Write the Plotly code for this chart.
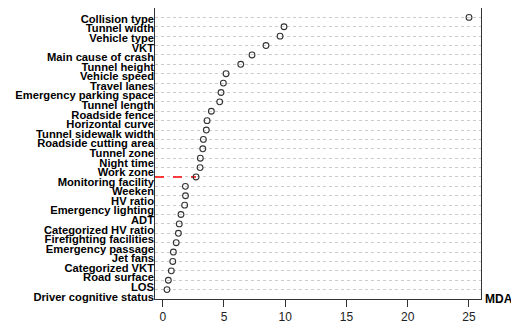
import plotly.graph_objects as go

variables = [
    "Collision type", "Tunnel width", "Vehicle type", "VKT", "Main cause of crash",
    "Tunnel height", "Vehicle speed", "Travel lanes", "Emergency parking space",
    "Tunnel length", "Roadside fence", "Horizontal curve", "Tunnel sidewalk width",
    "Roadside cutting area", "Tunnel zone", "Night time", "Work zone",
    "Monitoring facility", "Weeken", "HV ratio", "Emergency lighting", "ADT",
    "Categorized HV ratio", "Firefighting facilities", "Emergency passage",
    "Jet fans", "Categorized VKT", "Road surface", "LOS", "Driver cognitive status",
]
mda = [
    25.0, 9.9, 9.58, 8.43, 7.29, 6.37, 5.17, 4.95, 4.76, 4.65,
    3.97, 3.62, 3.56, 3.32, 3.27, 3.07, 3.05, 2.72, 1.85, 1.86,
    1.79, 1.49, 1.35, 1.28, 1.10, 0.87, 0.82, 0.70, 0.46, 0.35,
]
threshold_var = "Monitoring facility"
x_ticks = [0, 5, 10, 15, 20, 25]

n = len(mda)
x_range = [-0.63, 25.98]
y_range = [0, n + 1]
point_y = [n - i for i in range(n)]
# label rows are spread slightly wider than the point rows (as in the source)
lab_top, lab_bot = n - 0.16, 0.245
label_y = [lab_top - i * (lab_top - lab_bot) / (n - 1) for i in range(n)]

fig = go.Figure()
ti = variables.index(threshold_var)
fig.add_trace(go.Scatter(
    x=[x_range[0], mda[ti]], y=[point_y[ti], point_y[ti]], mode="lines",
    line=dict(color="#ff0000", width=1.6, dash="dash"), hoverinfo="skip",
    showlegend=False))
fig.add_trace(go.Scatter(
    x=mda, y=point_y, mode="markers", text=variables,
    marker=dict(symbol="circle-open", size=5.8, color="#333333",
                line=dict(width=1.1, color="#333333")),
    showlegend=False))
# invisible trace for the label axis
fig.add_trace(go.Scatter(x=[None], y=[None], yaxis="y2", showlegend=False))

# the page body adds an 8px offset, so the figure is 8px smaller
fig.update_layout(
    width=511, height=316,
    margin=dict(l=147, r=38, t=0.4, b=24.6),
    plot_bgcolor="white", paper_bgcolor="white",
    xaxis=dict(range=x_range, tickvals=x_ticks, ticks="outside", ticklen=7,
               tickcolor="#333333", showgrid=False, zeroline=False,
               automargin=False,
               showline=True, linecolor="#333333", linewidth=1, mirror=True,
               tickfont=dict(family="Liberation Sans", size=12, color="#222222")),
    yaxis=dict(range=y_range, tickvals=point_y, showticklabels=False,
               automargin=False,
               showgrid=True, gridcolor="#cccccc", griddash="dot", gridwidth=1,
               zeroline=False, showline=True, linecolor="#333333", linewidth=1,
               mirror=True, ticks=""),
    yaxis2=dict(range=y_range, overlaying="y", side="left", tickvals=label_y,
                ticktext=variables, showgrid=False, zeroline=False,
                automargin=False,
                showline=False, ticks="",
                tickfont=dict(family="Liberation Sans", size=11.2,
                              color="#000000", weight="bold")),
    annotations=[dict(text="MDA", xref="paper", yref="paper", x=1.104, y=0.0,
                      xanchor="right", yanchor="middle", showarrow=False,
                      font=dict(family="Liberation Sans", size=12,
                                color="#000000", weight="bold"))],
)

fig.write_html("out.html")
